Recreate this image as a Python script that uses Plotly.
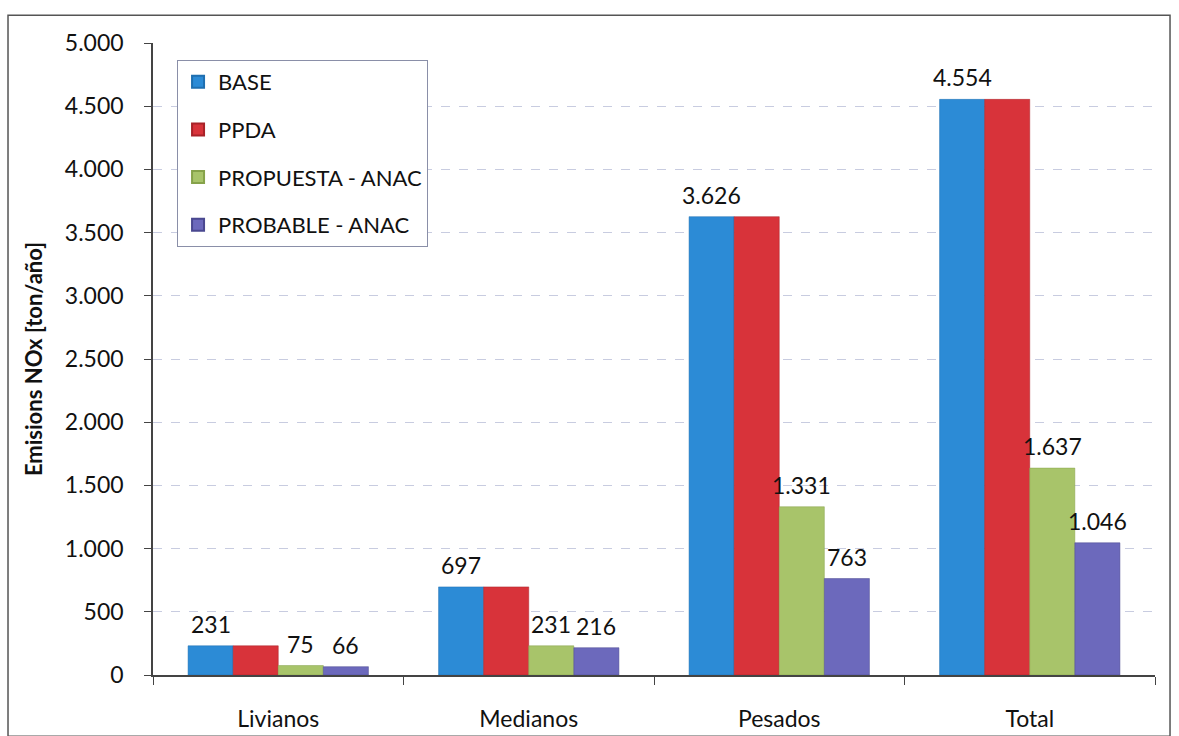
import plotly.graph_objects as go

categories = ["Livianos", "Medianos", "Pesados", "Total"]
series_names = ["BASE", "PPDA", "PROPUESTA - ANAC", "PROBABLE - ANAC"]
base = [231, 697, 3626, 4554]
ppda = [231, 697, 3626, 4554]
propuesta = [75, 231, 1331, 1637]
probable = [66, 216, 763, 1046]
y_ticks = [0, 500, 1000, 1500, 2000, 2500, 3000, 3500, 4000, 4500, 5000]

colors = ["#2C8BD6", "#D8333A", "#A8C46A", "#6C69BC"]
line_colors = ["#1F6FB0", "#A82228", "#86A24A", "#4A4890"]
show_labels = [True, False, True, True]

def fmt(v):
    return f"{v:,}".replace(",", ".")

FONT = "Lato, Open Sans, sans-serif"
all_vals = [base, ppda, propuesta, probable]

fig = go.Figure()
for i, (name, vals) in enumerate(zip(series_names, all_vals)):
    fig.add_trace(go.Bar(
        x=categories, y=vals, name=name,
        marker=dict(color=colors[i], line=dict(color=line_colors[i], width=0.5)),
        legendgroup=name,
    ))

n = len(series_names)
bargap = 0.28
cat_px = 1002 / len(categories)
bar_px = cat_px * (1 - bargap) / n
annotations = []
for i, vals in enumerate(all_vals):
    if not show_labels[i]:
        continue
    offset = (i - (n - 1) / 2) * bar_px
    for c, v in zip(categories, vals):
        annotations.append(dict(
            x=c, y=v, xref="x", yref="y", text=fmt(v), showarrow=False,
            xanchor="center", yanchor="bottom", xshift=offset, yshift=6,
            font=dict(size=23, family=FONT, color="#111111"),
        ))

fig.update_layout(
    width=1179, height=736,
    separators=",.",
    barmode="group", bargap=bargap, bargroupgap=0.0,
    plot_bgcolor="white", paper_bgcolor="white",
    margin=dict(l=153, r=24, t=43, b=61, autoexpand=False),
    font=dict(family=FONT, size=23, color="#111111"),
    showlegend=True,
    legend=dict(
        x=0.024, y=0.973, xanchor="left", yanchor="top",
        bgcolor="white", bordercolor="#8A8FA8", borderwidth=1,
        font=dict(size=22, family=FONT, color="#111111"),
        tracegroupgap=16, itemsizing="constant",
        traceorder="grouped",
    ),
    xaxis=dict(
        showline=True, linecolor="#444444", linewidth=1.5,
        ticks="outside", tickson="boundaries", ticklen=8, tickcolor="#444444",
        tickfont=dict(size=23), showgrid=False, ticklabelstandoff=23,
        automargin=False,
    ),
    yaxis=dict(
        range=[0, 5000], tickvals=y_ticks, tickformat=",d",
        showline=True, linecolor="#444444", linewidth=1.5,
        ticks="outside", ticklen=7, tickcolor="#444444", ticklabelstandoff=16,
        showgrid=True, gridcolor="#C8CCE0", griddash="dash", gridwidth=1,
        zeroline=False,
        tickfont=dict(size=23),
        title=dict(text="<b>Emisions NOx [ton/año]</b>", font=dict(size=22), standoff=16),
        automargin=False,
    ),
    annotations=annotations,
    shapes=[dict(
        type="rect", xref="paper", yref="paper",
        x0=-0.1447, x1=1.015, y0=-0.097, y1=1.044,
        line=dict(color="#555555", width=1.5), fillcolor="rgba(0,0,0,0)", layer="below",
    )],
)

fig.write_html("out.html")
